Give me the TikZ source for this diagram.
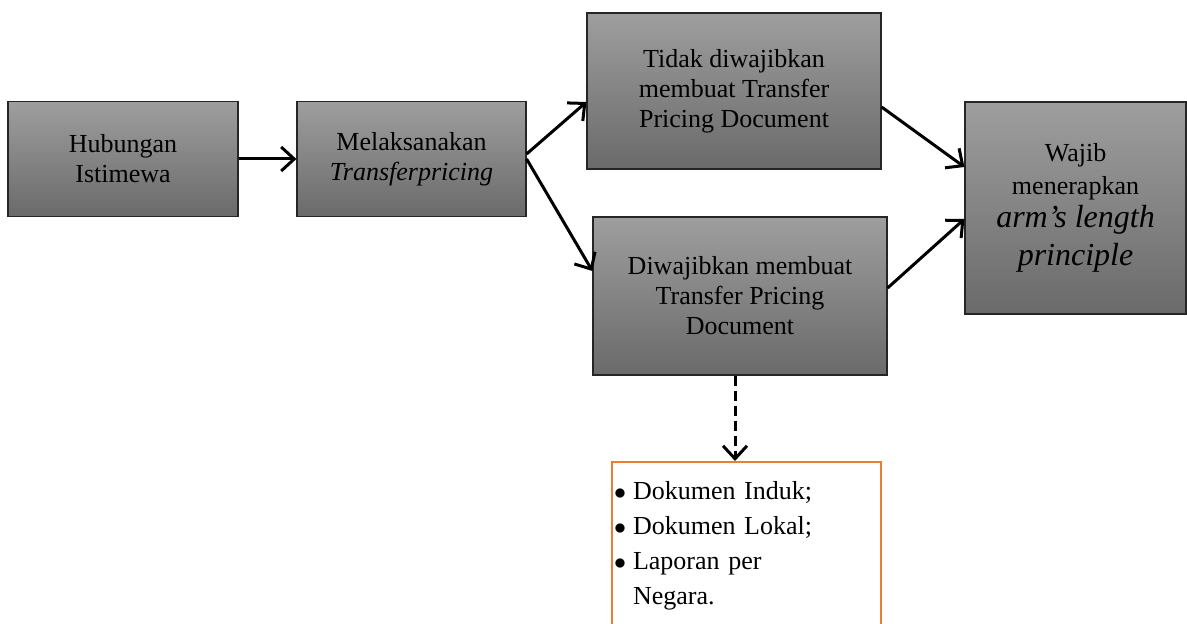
\documentclass[tikz,border=0pt]{standalone}
\usepackage{fontspec}
\setmainfont{Liberation Serif}
\usetikzlibrary{arrows.meta}
\definecolor{boxtop}{HTML}{9E9E9E}
\definecolor{boxbot}{HTML}{6A6A6A}
\definecolor{docorange}{HTML}{ED7D31}
\newcommand{\armfont}{\fontsize{16}{19}\selectfont\itshape}
\newcommand{\docitem}{\makebox[8.5pt][l]{\hspace{-1pt}$\bullet$}}

\begin{document}
\begin{tikzpicture}[x=0.5pt,y=-0.5pt,
  stepbox/.style={draw=black!85,line width=0.6pt,top color=boxtop,bottom color=boxbot,
    align=center,inner sep=0pt,font=\fontsize{13}{15}\selectfont},
  flow/.style={line width=1.5pt,-{Straight Barb[length=6.5pt,width=12pt,line width=1.5pt]}}]
\clip (0,0) rectangle (1187,624);
\node[stepbox,minimum width=115pt,minimum height=57.5pt] (hub) at (123,159) {Hubungan\\Istimewa};
\node[stepbox,minimum width=114.5pt,minimum height=57.5pt] (lak) at (411.5,159) {Melaksanakan\\\itshape Transferpricing};
\node[stepbox,minimum width=147pt,minimum height=78pt] (tidak) at (734,91) {Tidak diwajibkan\\membuat Transfer\\Pricing Document};
\node[stepbox,minimum width=147pt,minimum height=79pt] (diwa) at (740,296) {Diwajibkan membuat\\Transfer Pricing\\Document};
\node[stepbox,minimum width=110.5pt,minimum height=106pt] (wajib) at (1075.5,208) {Wajib\\[1.5pt]menerapkan\\[1.5pt]\armfont arm’s length\\[4pt]\armfont principle};
\node[draw=docorange,line width=1pt,anchor=north,minimum height=84pt,text width=130.5pt,
  inner xsep=2pt,align=left,font=\fontsize{13}{17.5}\selectfont] (docs) at (746.5,461)
  {\docitem Dokumen Induk;\\
   \docitem Dokumen Lokal;\\
   \docitem Laporan per\\
   \hspace*{8.5pt}Negara.};
\draw[flow] (hub.east) -- (lak.west);
\draw[flow] ([yshift=2.5pt]lak.east) -- ([yshift=-5.5pt]tidak.west);
\draw[flow] (lak.east) -- ([yshift=12.5pt]diwa.west);
\draw[flow] ([yshift=-8pt]tidak.east) -- ([yshift=20.5pt]wajib.west);
\draw[flow] ([yshift=4pt]diwa.east) -- ([yshift=-5.5pt]wajib.west);
\draw[flow,dash pattern=on 5pt off 2.5pt] ([xshift=-2.5pt]diwa.south) -- ([xshift=-5.75pt]docs.north);
\end{tikzpicture}
\end{document}
